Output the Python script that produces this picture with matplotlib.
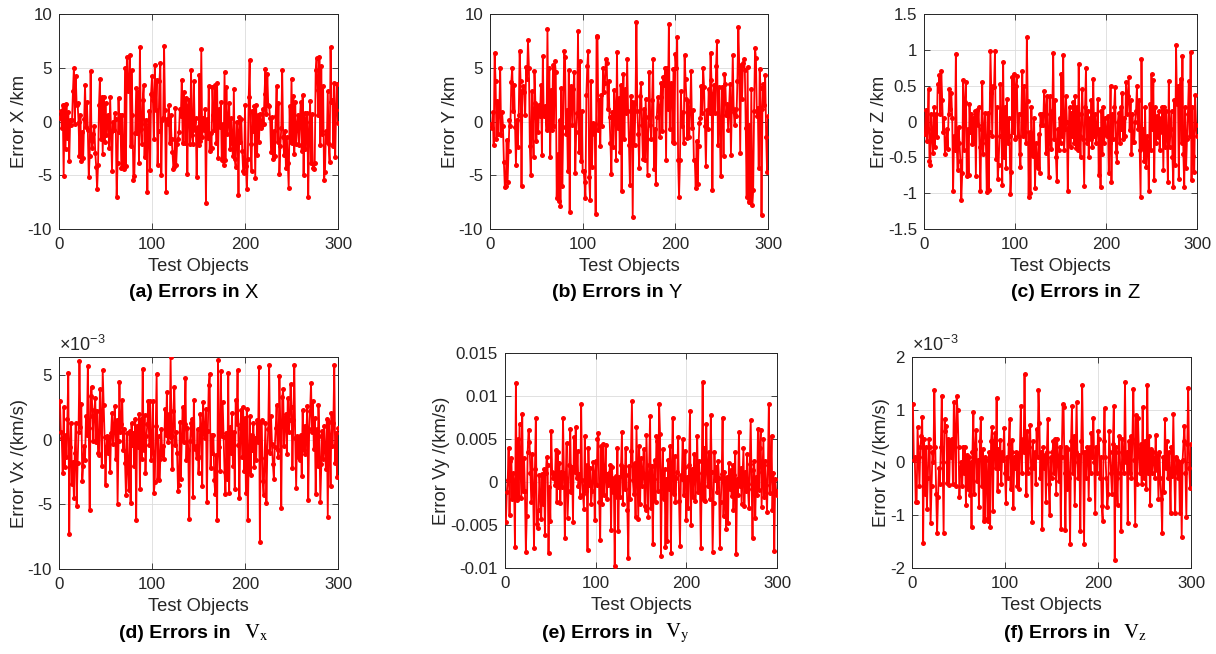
import numpy as np
import matplotlib
matplotlib.use("Agg")
import matplotlib.pyplot as plt
from matplotlib.ticker import FuncFormatter

plt.rcParams['font.family'] = ['Liberation Sans', 'DejaVu Sans']
plt.rcParams['axes.unicode_minus'] = False
plt.rcParams['mathtext.fontset'] = 'custom'
plt.rcParams['mathtext.rm'] = 'Liberation Sans'
plt.rcParams['mathtext.it'] = 'Liberation Sans:italic'

# ---------------- data ----------------
objects = np.arange(1, 301)

err_x_km = [
    0.3, 1.0, -0.6, 1.5, -5.1, 1.5, -2.6, 1.6, -1.5, 0.9,
    -3.7, 0.1, -0.3, 0.1, 2.8, 5.0, -0.2, 4.2, 1.5, 1.7,
    0.0, -3.2, 0.6, -3.7, -1.0, -3.4, 0.2, 3.4, -0.5, 1.8,
    -0.8, -5.2, -3.2, 4.7, -1.8, -2.5, -1.2, -0.4, -2.9, -4.2,
    -6.3, -4.0, 1.5, 4.0, -1.6, 2.3, -3.0, 2.3, -1.9, 1.7,
    -1.3, 0.5, 0.6, -2.5, 2.3, -1.0, -4.6, 0.0, -0.8, 0.8,
    0.2, -7.0, -3.9, 2.2, -1.0, 0.6, -4.3, 0.6, -4.2, -4.4,
    5.0, -4.1, 6.0, 2.8, 3.0, 6.2, -2.3, 4.8, 0.6, -5.4,
    -5.1, -1.1, 3.1, -1.1, 2.7, -3.9, 6.9, -0.7, -2.1, 2.0,
    3.4, -3.3, -0.2, 0.1, -6.6, -0.6, 1.0, -4.5, 2.6, 4.2,
    2.0, -1.6, 5.3, 1.1, 3.9, -4.0, -0.9, 3.8, 5.4, -5.0,
    0.1, 0.3, 7.0, 1.1, -6.6, 0.2, -0.2, 1.5, -2.0, 0.6,
    -1.6, -2.8, -4.4, -4.2, 1.3, -4.0, -2.1, -1.6, -1.0, 1.2,
    0.5, 3.9, -2.0, 2.7, 1.0, -2.0, 2.2, -4.9, 1.4, 2.0,
    -2.1, 4.8, -1.3, -2.1, 3.8, -0.8, 0.3, -5.2, -0.5, -2.2,
    4.3, -1.8, 6.7, -1.4, 0.3, -0.8, 1.2, -7.6, 0.2, -1.5,
    3.3, -2.7, -1.1, -2.5, 3.2, 0.6, -0.8, 3.4, -2.0, 3.6,
    -3.4, 1.2, -0.5, 1.8, -3.6, -0.2, -4.0, 4.6, -3.6, 3.2,
    -1.2, 0.1, 1.7, -2.6, 0.3, -2.0, -3.2, 3.0, -3.5, -4.2,
    0.0, -0.9, -6.8, 0.4, -1.9, 0.2, -2.7, -4.6, -4.8, 1.5,
    -4.1, -6.3, -3.5, 2.3, 5.7, -2.1, -4.6, 1.0, -0.9, 1.4,
    -5.3, 1.5, -3.1, 0.6, -1.9, 0.7, -0.6, -0.3, 1.2, -0.2,
    2.6, 4.9, 0.7, 4.4, 1.5, 1.4, 0.3, -2.8, 0.4, -3.5,
    -0.9, -3.2, 0.5, 3.3, -1.9, 1.7, -4.9, -2.3, -0.6, 4.8,
    -1.4, -3.1, -0.9, -4.3, -1.4, -3.9, -6.2, 1.4, -1.9, 4.0,
    -2.0, 2.4, -3.0, 1.8, -2.1, -0.4, 0.6, -2.2, 0.2, 1.8,
    -2.7, 2.5, -5.0, 0.8, -2.6, 0.0, 0.8, -7.0, -1.1, 1.9,
    -3.9, 0.7, -4.3, -4.4, -3.9, 4.8, 5.9, 2.9, 0.6, 6.0,
    -2.2, 5.2, -1.2, 3.3, -5.4, -4.7, -0.9, -1.9, 2.8, -2.1,
    -3.8, 6.9, 1.8, 2.0, -2.3, 3.6, -3.3, 1.1, 3.5, -0.1,
]

err_y_km = [
    -0.2, -0.6, 0.9, -2.2, 6.4, 3.8, -1.6, 1.9, -1.2, 0.7,
    5.0, -1.3, 0.9, -0.4, -3.8, -6.1, -6.0, -1.7, -5.6, -2.7,
    0.1, -0.4, 3.7, 5.0, 1.0, 3.4, -0.5, -4.0, 0.1, -2.4,
    0.6, 6.6, 3.8, -6.0, 2.8, 3.3, 2.7, 0.6, 5.1, 4.0,
    7.6, 5.0, -2.3, -5.0, 2.8, 0.4, -3.3, 4.7, 1.7, -1.8,
    1.4, -1.0, 1.5, 0.5, 3.4, -3.1, 6.1, 0.5, 1.4, 0.9,
    -0.8, 8.6, -0.7, 5.0, -3.3, 2.9, -0.8, 5.3, -0.4, 5.6,
    4.6, -7.1, -3.0, -7.4, 0.1, -7.9, 3.1, -6.0, -0.5, 6.6,
    6.0, -1.2, 1.1, -4.6, 4.8, -8.4, 3.3, 3.0, -0.3, 3.0,
    4.6, -4.8, -1.0, 0.8, 8.4, -2.8, 5.6, -3.7, 1.0, -4.6,
    -4.6, -5.6, -7.1, 2.5, 5.2, 6.6, -5.2, -7.3, 3.8, -4.2,
    -0.1, -1.2, -0.2, -8.6, 8.0, 7.9, -0.8, 2.0, -2.3, 2.5,
    -0.4, 5.0, 2.7, 3.6, 5.8, 5.4, 1.2, 3.8, 0.4, -2.0,
    -4.9, 0.9, -2.4, 2.9, 1.2, -3.6, 6.5, -0.6, 2.2, -2.8,
    3.4, -6.5, 1.0, 4.4, -1.6, 3.0, 0.8, 5.8, 1.0, -2.2,
    -5.9, 2.4, 1.8, -8.9, 1.6, -2.2, 1.8, 9.3, 1.0, -1.2,
    -4.3, 2.4, 3.6, -0.3, -3.5, 1.2, -3.6, 2.1, -1.6, -5.0,
    0.4, 4.6, -0.3, -1.6, 2.0, 5.8, -4.4, -0.7, -5.8, 0.4,
    2.3, 1.4, -1.4, 2.3, 3.6, -0.9, 4.1, 3.4, 5.0, -3.6,
    5.0, 1.2, 9.1, -0.7, 3.6, 3.4, -1.9, 4.9, -2.0, 6.3,
    5.0, 7.9, -3.6, -7.0, -3.6, 2.8, -0.4, 0.9, -2.0, 6.2,
    4.0, 2.1, -1.5, 1.9, -1.4, 1.0, 4.7, -0.6, 1.1, -3.6,
    -3.6, -6.2, -1.8, -5.8, -2.3, -0.1, 0.3, 3.3, 0.8, 5.0,
    3.2, -0.4, -4.1, 1.1, -0.7, 3.0, 0.8, 6.4, 3.9, -6.4,
    2.6, 3.4, 0.8, 5.2, 7.5, -2.2, 3.2, -0.5, -5.1, 3.2,
    3.1, -3.2, 4.4, 3.5, 0.6, 1.6, -0.8, 1.4, 3.5, -3.1,
    1.3, 6.2, 0.9, -0.3, 1.2, 0.5, 3.8, 8.8, 5.0, -2.9,
    5.3, 2.1, 5.4, 5.8, 4.8, -0.6, -7.0, 5.1, -7.5, -0.3,
    -7.5, 3.0, -7.8, -6.4, 1.0, 6.8, 5.9, 0.5, 1.3, -4.3,
    4.9, 3.1, -8.7, 1.2, 3.5, 1.5, 4.3, -1.4, -4.7, 0.5,
]

err_z_km = [
    -0.18, 0.16, -0.27, -0.1, 0.46, -0.55, -0.6, 0.1, -0.2, -0.44,
    0.2, -0.35, 0.1, -0.22, 0.52, 0.42, 0.65, 0.1, 0.7, 0.3,
    -0.15, 0.05, -0.45, -0.36, -0.1, -0.38, 0.1, 0.45, 0.18, 0.4,
    0.05, -0.97, -0.2, -0.4, 0.94, -0.35, -0.68, -0.08, -0.3, -0.55,
    -1.1, -0.72, 0.58, -0.4, 0.27, 0.55, -0.76, -0.1, -0.74, 0.25,
    -0.15, 0.1, -0.32, 0.05, -0.3, 0.15, -0.76, 0.16, -0.05, 0.2,
    -0.35, -0.97, -0.1, 0.55, -0.45, -0.2, 0.12, -0.3, -0.98, 0.12,
    -0.95, -0.15, 0.98, 0.4, -0.2, 0.5, 0.48, 0.99, -0.52, 0.2,
    -0.8, -0.6, -0.2, 0.52, 0.0, -0.89, 0.83, -0.5, 0.2, -0.65,
    0.31, -0.3, 0.05, -0.2, -1.01, -0.7, 0.62, -0.15, 0.66, -0.25,
    0.5, 0.64, -0.2, 0.1, -0.45, -0.63, 0.1, 0.7, -0.2, 0.5,
    -0.15, -0.3, 1.18, 0.28, -1.05, -0.15, -1.0, 0.2, -0.45, -0.48,
    0.05, -0.93, -0.3, -0.6, -0.65, -0.18, -0.72, 0.1, -0.05, 0.1,
    -0.05, 0.43, 0.2, -0.44, 0.35, -0.3, -0.78, 0.35, 0.1, -0.38,
    0.15, 0.95, -0.25, 0.3, -0.5, -0.83, -0.1, -0.4, 0.05, -0.3,
    0.66, -0.2, 0.93, -0.4, -0.1, 0.35, 0.0, -0.97, -0.1, 0.2,
    -0.35, 0.12, -0.2, 0.27, -0.3, 0.35, -0.37, 0.2, -0.4, 0.8,
    -0.2, -0.5, 0.1, 0.45, -0.25, -0.9, 0.2, 0.75, -0.3, 0.15,
    -0.5, 0.05, -0.25, 0.3, -0.35, 0.6, -0.2, 0.1, -0.3, -0.1,
    0.32, -0.75, -0.1, -0.92, 0.15, -0.45, 0.2, -0.3, 0.05, -0.18,
    -0.2, 0.08, -0.72, -0.3, 0.5, -0.85, 0.1, -0.25, 0.2, 0.48,
    -0.43, -0.56, 0.0, 0.12, -0.3, 0.2, -0.1, 0.4, -0.25, 0.05,
    -0.2, 0.55, 0.1, 0.35, 0.62, -0.12, 0.3, -0.46, 0.1, -0.28,
    -0.29, 0.0, 0.15, 0.5, -0.1, 0.3, -0.4, -1.05, 0.87, -0.35,
    -0.1, -0.55, 0.2, -0.63, -0.2, -0.3, -0.97, 0.25, -0.4, 0.66,
    -0.1, 0.58, -0.82, 0.2, -0.3, 0.08, -0.22, 0.15, -0.4, 0.05,
    -0.15, 0.2, -0.68, 0.2, -0.35, 0.15, -0.2, -0.85, 0.57, -0.35,
    -0.1, 0.15, -0.5, -0.91, 0.3, -0.6, 1.07, 0.25, 0.5, -0.8,
    0.45, 0.6, -0.3, 0.91, -0.45, -0.91, 0.2, -0.65, -0.25, 0.1,
    0.56, -0.2, 0.97, -0.82, 0.2, -0.48, -0.71, 0.37, -0.05, -0.2,
]

# velocity errors, in units of 1e-3 km/s
err_vx_milli = [
    3.0, 0.6, 0.1, -2.6, 2.5, -2.1, 0.4, -1.3, 1.6, 5.2,
    -7.3, -0.6, 1.3, -3.4, -1.7, -4.5, -1.0, 1.3, -5.1, -1.8,
    0.6, 6.1, 1.0, 2.8, -3.2, -2.0, -0.5, -1.6, 1.8, 0.4,
    5.7, 0.9, -5.4, 3.4, 4.1, 1.8, -0.1, 2.3, 3.2, -0.2,
    2.2, -1.0, -1.2, 3.9, 1.5, -2.0, 5.4, 2.7, 0.2, -3.5,
    -0.6, 0.3, -1.0, 0.2, -2.5, 0.5, 2.1, -0.3, 0.9, 2.6,
    -1.5, 1.5, -5.0, -0.1, 4.5, 0.6, 1.2, 3.1, -0.8, 0.8,
    -1.8, -4.3, 0.5, -2.2, -3.9, 0.7, -4.9, 1.3, -0.4, 0.5,
    -2.0, 1.6, -6.2, 1.1, -0.6, 2.0, -3.8, 1.6, -1.5, 5.5,
    -0.8, 1.9, -2.6, 0.3, 1.2, 3.0, -0.4, 3.0, -1.6, -0.9,
    3.0, -4.1, -3.3, 1.1, 5.1, -3.0, 0.3, -3.1, -1.5, 0.8,
    -1.2, -0.5, -1.5, 2.4, 0.4, 3.7, -0.2, 2.0, 0.2, 6.4,
    0.3, -2.3, 2.2, 4.1, -0.4, 0.6, -1.0, -4.0, -3.5, 1.4,
    -3.0, 0.1, 2.5, -0.2, 1.2, 4.8, -1.6, 0.9, -0.8, -6.1,
    -0.1, 1.3, 1.6, -4.4, 3.1, -0.7, -0.5, -1.4, 0.8, -2.6,
    -1.3, 2.0, 1.0, -3.6, 2.9, 0.5, 0.1, 2.4, -4.8, 0.7,
    4.2, 5.1, -2.2, 0.4, -1.0, 0.4, -3.1, -4.2, -1.2, -6.2,
    6.2, -0.6, -2.4, 5.3, 0.3, 2.9, 0.2, -2.5, -4.2, 0.5,
    -3.0, 5.2, -4.1, 1.0, -1.0, 2.1, -2.0, 0.6, -3.8, 3.1,
    1.2, 5.4, -0.4, -4.5, 0.9, 2.3, -1.3, 2.5, -2.4, 1.7,
    -4.1, 2.4, -6.2, -1.2, 1.8, -2.7, 0.4, -0.8, 1.3, -2.1,
    0.1, -1.6, 1.5, -0.2, 5.6, -7.9, 1.4, 1.5, -3.2, -4.3,
    -1.4, 1.3, -4.9, -0.9, 0.8, 5.8, -1.0, 1.8, -0.3, -1.9,
    -3.0, -0.6, 0.9, 2.7, -0.8, -1.3, 4.9, 1.0, -5.3, 3.3,
    3.9, -0.5, 1.7, 2.0, -1.1, 3.2, 0.6, 1.5, 4.3, 2.5,
    -2.2, 1.5, 5.8, 0.1, -3.7, 0.3, -1.3, 0.2, -1.6, 0.4,
    -2.8, 2.3, -0.8, 1.1, -1.1, 0.6, 2.6, -4.7, 0.8, 2.2,
    4.4, 0.6, 3.0, -0.7, 1.7, -4.2, 0.8, -2.0, 2.7, 0.3,
    -4.8, -1.9, 0.7, -1.5, 1.1, -0.9, -2.3, 1.6, -6.0, 1.4,
    0.2, -3.6, 2.1, -0.5, 1.3, 5.8, -1.8, 0.5, -2.9, 0.9,
]

err_vy_milli = [
    -4.7, -1.2, 0.2, 4.0, -3.8, 2.5, 2.8, -2.0, 1.0, -0.5,
    -7.5, 11.5, -2.1, 5.0, -1.8, 6.8, 2.4, -1.9, 7.9, -1.0,
    2.8, -1.1, -8.1, -4.0, 3.5, 6.1, 4.7, 1.0, -2.3, 3.3,
    -0.8, -7.7, 1.5, 7.4, -4.9, -5.4, -3.3, 0.8, -1.6, -4.3,
    0.9, -2.6, 1.5, -6.2, 1.0, 2.9, 2.0, -8.2, -0.6, -4.5,
    5.9, 1.2, 0.5, 1.0, -0.3, 3.7, -2.3, 3.5, -0.6, 2.2,
    -2.4, 1.2, -0.6, 7.4, 1.0, -6.5, 0.5, 4.5, -4.2, -1.0,
    2.0, 6.2, -1.2, 1.8, -4.7, 5.2, 1.2, 6.4, 0.5, 3.6,
    -0.5, 0.9, -1.8, 9.1, 0.2, -1.4, -3.1, 5.3, -1.1, 2.0,
    -7.9, 3.9, -0.4, 1.6, -2.5, -1.0, 2.3, 1.1, -4.4, 2.5,
    -0.4, 5.0, 5.7, -2.3, -6.8, 4.2, -2.5, 4.4, -1.5, 0.6,
    4.3, -2.0, 0.9, -0.3, 1.1, 2.0, -5.6, 1.8, -1.2, 0.5,
    -9.8, 0.7, -1.8, 3.9, -5.7, 0.6, -1.7, 2.0, 5.8, -2.6,
    1.7, -0.8, 4.0, 0.8, -3.3, -8.8, 1.9, -2.0, 3.6, 9.4,
    0.2, -1.4, 2.2, -4.1, 6.4, 1.2, -4.3, 4.2, -2.6, 2.8,
    -0.5, 1.0, 3.8, -2.8, -3.2, 5.5, 0.5, -4.1, 2.0, 7.7,
    -3.0, 1.9, -7.2, 0.3, 2.6, -2.3, 5.3, 4.8, -1.0, 9.1,
    5.6, -8.6, 0.5, 3.8, -2.0, 1.5, -7.6, 0.4, -6.9, 2.6,
    -0.8, 4.2, -8.2, 1.6, 7.5, -1.4, 3.0, -2.3, 0.5, 1.2,
    5.2, -2.2, -7.4, 0.8, 0.4, 5.0, -1.5, 1.8, 3.6, -4.4,
    0.6, -3.0, 2.0, 8.2, -5.0, 1.5, -1.8, 0.4, 3.2, -2.2,
    0.9, 5.3, -1.2, 2.5, -0.6, -7.7, 1.0, 11.6, -2.1, 4.0,
    -2.2, 6.7, 1.5, -0.5, 3.5, -2.0, 7.8, 1.2, -8.1, -2.4,
    3.5, 0.2, 1.8, -1.2, 2.5, 0.5, -7.7, -2.3, 0.9, 7.5,
    -4.0, 1.2, -0.4, -5.5, 0.6, -4.8, 2.2, -0.8, 1.4, -1.6,
    2.0, -3.2, 0.8, 3.5, -8.4, 0.3, -1.5, 5.8, -0.5, 1.6,
    -2.6, 0.7, 3.9, -2.8, 1.2, -1.0, 3.3, -0.8, -3.0, 2.1,
    7.2, -0.2, -6.5, 1.4, 2.5, -4.2, 0.6, -1.5, 6.2, -0.9,
    4.0, 6.1, -2.9, 1.2, 5.0, -1.8, 2.4, -0.4, -3.5, 2.0,
    9.1, -1.3, 0.8, 5.4, -3.2, 1.0, -8.0, 0.3, -1.0, -1.5,
]

err_vz_milli = [
    1.1, 0.05, 0.1, -0.75, -0.74, 0.67, 0.1, -0.44, 0.3, 0.5,
    0.87, -1.53, 0.45, -0.6, 0.3, -0.88, -0.3, 0.45, 0.3, -1.15,
    -0.45, 0.2, 0.0, 1.37, 0.3, -0.6, -1.33, -0.65, -0.1, -0.4,
    0.3, 1.27, 0.0, -1.34, 0.83, 0.6, 0.7, -0.38, 0.45, -0.42,
    0.4, 0.1, 0.45, -0.4, 1.15, 0.6, -0.44, 1.26, 1.0, 0.3,
    -0.65, -0.1, 0.0, -0.45, 0.3, -0.2, 0.3, -0.8, 0.15, -0.5,
    0.1, -0.62, 0.0, -1.22, 0.2, 0.96, -0.6, 0.25, 0.62, -0.35,
    0.05, -0.85, 0.4, 0.84, -0.45, 0.25, -1.1, 0.1, -1.08, 0.05,
    -0.3, -1.1, 0.2, -1.23, 0.4, 0.67, -0.92, 0.4, 0.55, -0.1,
    1.23, -0.54, 0.25, -0.1, 0.42, -0.4, 0.2, 0.05, 0.66, -0.2,
    -0.76, 0.1, -0.3, 0.35, 0.82, -0.5, 0.2, 0.42, -0.86, 0.1,
    -0.1, 0.2, -0.45, 0.15, -0.5, 0.2, 1.08, -0.2, 0.45, 0.2,
    1.67, 0.3, -0.62, 0.6, -0.2, 0.3, 0.72, -0.1, -1.12, 0.4,
    -0.1, 0.2, -0.4, 0.64, 0.1, 1.38, 0.75, -0.3, 0.2, -1.27,
    0.3, -0.1, 0.15, -0.75, 0.2, 0.83, -0.4, -1.0, 0.1, -0.3,
    0.2, 0.4, -0.2, 0.45, -0.6, 0.45, 0.1, -0.35, 0.3, -1.26,
    0.1, 1.1, 1.05, -0.2, -1.28, 0.3, -0.5, 0.25, -0.3, -1.55,
    0.4, 1.07, -0.2, 0.5, -0.8, 0.2, 1.15, 0.0, -0.3, 0.15,
    -1.3, 0.4, 1.47, 0.2, -1.55, 0.2, -0.3, 0.3, 0.25, -0.7,
    0.3, -0.2, 0.55, 0.1, 0.85, 0.0, -0.95, 0.3, -0.2, 0.6,
    0.45, -0.3, 0.1, -0.82, -1.1, 0.4, 1.03, 0.1, -0.3, -0.85,
    -0.6, 0.6, 0.2, -0.2, -0.6, 0.35, 1.07, -1.85, 0.3, -0.3,
    -0.8, 0.2, 0.5, -0.2, -1.3, 0.45, 0.0, -0.2, 1.53, 0.0,
    0.2, -1.15, 0.4, -0.2, 0.5, -0.3, 0.45, 1.4, 0.05, -1.18,
    0.9, -0.4, 0.85, 0.2, -0.2, 0.35, -0.4, 1.05, -0.3, 0.4,
    0.2, -0.5, 1.47, -0.2, 0.5, -0.8, 0.25, -0.2, 0.2, 0.05,
    -0.3, 0.52, -0.15, 0.15, -0.7, 0.2, -0.3, -0.7, -1.33, 0.1,
    -0.55, 0.82, -0.1, 0.4, -0.3, 0.2, -0.2, -0.95, 0.3, -0.25,
    0.92, -0.2, -0.95, 0.1, 0.05, -0.3, 0.0, -0.95, 0.0, -1.41,
    0.05, 0.4, 0.7, -0.2, -1.03, 0.35, 1.42, -0.1, -0.48, 0.35,
]

ylabels = ['Error X /km', 'Error Y /km', 'Error Z /km',
           'Error Vx /(km/s)', 'Error Vy /(km/s)', 'Error Vz /(km/s)']
caption_bold = ['(a) Errors in', '(b) Errors in', '(c) Errors in',
                '(d) Errors in', '(e) Errors in', '(f) Errors in']
caption_sym = ['X', 'Y', 'Z', 'x', 'y', 'z']
xlabel = 'Test Objects'

# ---------------- figure ----------------
W, H = 1216, 654
fig = plt.figure(figsize=(W / 100, H / 100), dpi=100)

# axes boxes in pixels: left, top, right, bottom
boxes = [(59, 14, 338, 229), (490, 14, 768, 229), (924, 14, 1197, 229),
         (59, 357, 338, 569), (505, 353, 777, 568), (912, 357, 1191, 568)]

series = [np.array(err_x_km), np.array(err_y_km), np.array(err_z_km),
          np.array(err_vx_milli) * 1e-3, np.array(err_vy_milli) * 1e-3,
          np.array(err_vz_milli) * 1e-3]

ylims = [(-10, 10), (-10, 10), (-1.5, 1.5), (-10e-3, 6.4e-3), (-0.01, 0.015), (-2e-3, 2e-3)]
yticks = [np.arange(-10, 11, 5), np.arange(-10, 11, 5), np.arange(-1.5, 1.51, 0.5),
          np.arange(-10e-3, 6e-3, 5e-3), np.arange(-0.01, 0.0151, 0.005),
          np.arange(-2e-3, 2.01e-3, 1e-3)]

axcol = '#262626'
gfmt = FuncFormatter(lambda v, p: '%g' % round(v, 6))
milli_fmt = FuncFormatter(lambda v, p: '%g' % round(v * 1e3, 6))

for i, (l, t, r, b) in enumerate(boxes):
    ax = fig.add_axes([l / W, 1 - b / H, (r - l) / W, (b - t) / H])
    ax.plot(objects, series[i], color='#ff0000', lw=1.3, marker='o',
            markersize=3.6, markeredgewidth=0, zorder=3)
    ax.set_xlim(0, 300)
    ax.set_xticks([0, 100, 200, 300])
    ax.set_ylim(*ylims[i])
    ax.set_yticks(yticks[i])
    if i in (3, 5):
        ax.yaxis.set_major_formatter(milli_fmt)
        ax.text(0.0, 1.01, r'$\times$10$^{\mathrm{-3}}$', transform=ax.transAxes,
                ha='left', va='bottom', fontsize=13, color=axcol)
    else:
        ax.yaxis.set_major_formatter(gfmt)
    ax.grid(True, color='#dcdcdc', lw=0.6)
    ax.set_axisbelow(True)
    ax.tick_params(direction='in', length=4, width=0.6, colors=axcol,
                   labelsize=12.2, top=True, right=True)
    ax.tick_params(axis='x', pad=6)
    ax.tick_params(axis='y', pad=5)
    for s in ax.spines.values():
        s.set_color(axcol)
        s.set_linewidth(0.7)
    ax.set_xlabel(xlabel, fontsize=13.2, color=axcol, labelpad=4)
    ax.set_ylabel(ylabels[i], fontsize=13.2, color=axcol, labelpad=0)

# captions: bold part + symbol part
cap_top_y = 1 - 292 / H
cap_bot_y = 1 - 634 / H
cap_join = [240, 664, 1122, 231, 652, 1110]
for i in range(6):
    xj = cap_join[i] / W
    if i < 3:
        fig.text(xj, cap_top_y, caption_bold[i], ha='right', va='center',
                 fontsize=14, fontweight='bold', color='black')
        fig.text(xj + 5 / W, cap_top_y, caption_sym[i], ha='left', va='center',
                 fontsize=14.5, color='black')
    else:
        fig.text(xj, cap_bot_y, caption_bold[i], ha='right', va='center',
                 fontsize=14, fontweight='bold', color='black')
        fig.text(xj + 13 / W, cap_bot_y + 1 / H, r'$\mathrm{V}_{\mathrm{%s}}$' % caption_sym[i],
                 ha='left', va='center', fontsize=15, color='black',
                 math_fontfamily='stix')

fig.savefig('out.png', dpi=100)
